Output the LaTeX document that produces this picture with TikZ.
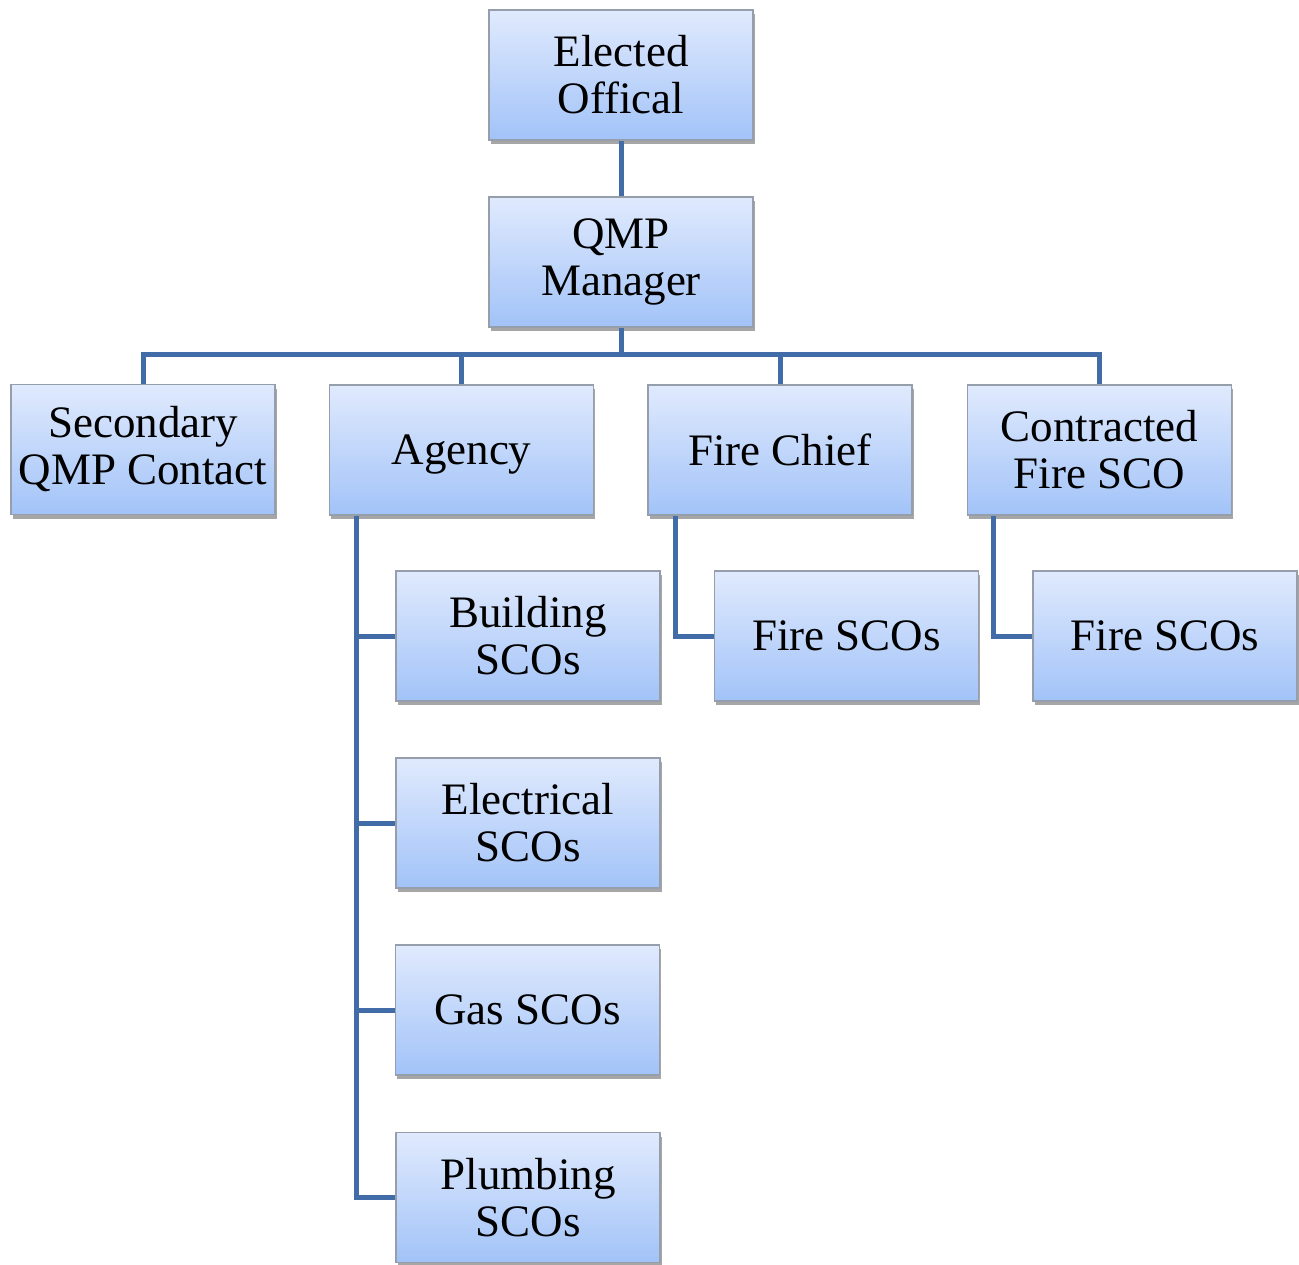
\documentclass[tikz,border=0pt]{standalone}
\usepackage{fontspec}
\setmainfont{Liberation Serif}
\usetikzlibrary{shadows}
\definecolor{boxtop}{RGB}{224,234,253}
\definecolor{boxbot}{RGB}{162,195,248}
\definecolor{boxline}{RGB}{150,158,172}
\definecolor{conn}{RGB}{66,108,168}
\tikzset{
  orgbox/.style={draw=boxline, line width=1.2pt, top color=boxtop, bottom color=boxbot,
    minimum width=264pt, minimum height=130pt, inner sep=0pt, align=center,
    font=\fontsize{45}{47}\selectfont,
    drop shadow={shadow xshift=1.5pt, shadow yshift=-4pt, opacity=0.35, fill=black}},
  link/.style={draw=conn, line width=5pt, line join=miter}
}
\begin{document}
\begin{tikzpicture}[x=1pt,y=-1pt]
\useasboundingbox (0,0) rectangle (1299,1265);
\node[orgbox] (elected) at (621,75) {Elected\\Offical};
\node[orgbox] (qmp) at (621,262) {QMP\\Manager};
\node[orgbox] (sec) at (143,449.5) {Secondary\\QMP Contact};
\node[orgbox, text depth=0pt] (agency) at (461.5,450) {Agency};
\node[orgbox] (chief) at (780,450) {Fire Chief};
\node[orgbox] (contr) at (1099.5,450) {Contracted\\Fire SCO};
\node[orgbox] (bld) at (528,636) {Building\\SCOs};
\node[orgbox] (fire1) at (846.5,636) {Fire SCOs};
\node[orgbox] (fire2) at (1165,636) {Fire SCOs};
\node[orgbox] (elec) at (528,823) {Electrical\\SCOs};
\node[orgbox] (gas) at (527.5,1010) {Gas SCOs};
\node[orgbox] (plumb) at (528,1197.5) {Plumbing\\SCOs};
\coordinate (bus) at (621,355);
\coordinate (av) at (356,516);
\coordinate (cv) at (675,516);
\coordinate (fv) at (993,516);
\draw[link] (elected.south) -- (qmp.north);
\draw[link] (qmp.south) -- (bus);
\draw[link] (sec.north) |- (bus) -| (contr.north);
\draw[link] (agency.north) -- (agency.north |- bus);
\draw[link] (chief.north) -- (chief.north |- bus);
\draw[link] (av) |- (plumb.west);
\draw[link] (av |- bld.west) -- (bld.west);
\draw[link] (av |- elec.west) -- (elec.west);
\draw[link] (av |- gas.west) -- (gas.west);
\draw[link] (cv) |- (fire1.west);
\draw[link] (fv) |- (fire2.west);
\end{tikzpicture}
\end{document}
